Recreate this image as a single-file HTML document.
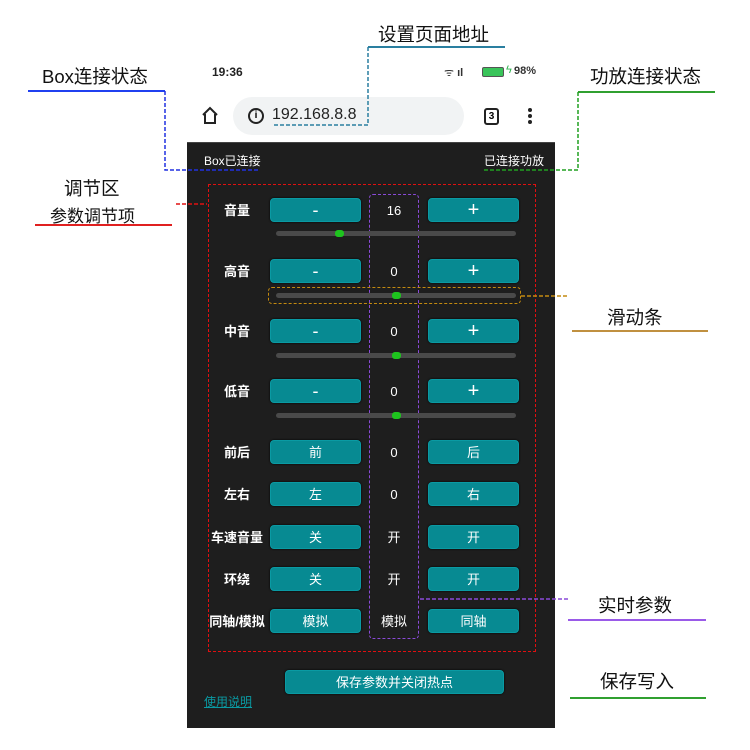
<!DOCTYPE html>
<html><head><meta charset="utf-8"><style>
*{margin:0;padding:0;box-sizing:border-box}
body{width:750px;height:750px;background:#fff;position:relative;overflow:hidden;font-family:"Liberation Sans","Noto Sans CJK SC",sans-serif}
.a{position:absolute}
.t{position:absolute;white-space:nowrap}
.btn{position:absolute;width:91px;height:24px;background:#078a92;border-radius:4px;border:1px solid #0a9aa3;color:#fff;font-size:13px;text-align:center;line-height:23px;box-shadow:0 0 2px #000}
.lbl{position:absolute;color:#fff;font-size:13px;width:80px;text-align:center;left:197px;font-weight:bold}
.val{position:absolute;color:#fff;font-size:13px;width:50px;text-align:center;left:369px}
.n{margin-top:3px}
.sl{position:absolute;left:276px;width:240px;height:5px;background:#4a4a4a;border-radius:3px}
.th{position:absolute;top:-1px;width:9px;height:7px;background:#1ec41e;border-radius:3px}
.ann{position:absolute;font-size:18.5px;color:#111;white-space:nowrap}
</style></head><body>
<div class="t" style="left:212px;top:65px;font-size:12px;font-weight:bold;color:#222">19:36</div>
<div class="t" style="left:444px;top:65px;font-size:11px;color:#333">ᯤ <b>ıl</b></div>
<div class="a" style="left:482px;top:67px;width:22px;height:10px;border:1px solid #555;border-radius:2px;background:#39c45a"></div>
<div class="t" style="left:506px;top:64px;font-size:11px;color:#2bb24c">ϟ</div>
<div class="t" style="left:514px;top:65px;font-size:11px;font-weight:bold;color:#333">98%</div>
<svg class="a" style="left:200px;top:106px" width="20" height="20"><path d="M3 9 L10 2 L17 9 M5 8 V17 H15 V8" fill="none" stroke="#222" stroke-width="2"/></svg>
<div class="a" style="left:233px;top:97px;width:231px;height:38px;background:#f1f3f4;border-radius:19px"></div>
<div class="a" style="left:248px;top:108px;width:16px;height:16px;border:2px solid #222;border-radius:50%;font-size:10px;font-weight:bold;text-align:center;line-height:12px">i</div>
<div class="t" style="left:272px;top:106px;font-size:16px;color:#222">192.168.8.8</div>
<div class="a" style="left:484px;top:108px;width:15px;height:17px;border:2px solid #222;border-radius:3px;font-size:10px;font-weight:bold;text-align:center;line-height:13px">3</div>
<div class="a" style="left:528px;top:108px;width:4px;height:4px;background:#222;border-radius:50%"></div>
<div class="a" style="left:528px;top:114px;width:4px;height:4px;background:#222;border-radius:50%"></div>
<div class="a" style="left:528px;top:120px;width:4px;height:4px;background:#222;border-radius:50%"></div>
<div class="a" style="left:187px;top:142px;width:368px;height:586px;background:#1e1e1e;border-top:1px solid #444"></div>
<div class="t" style="left:204px;top:152px;font-size:12px;color:#fff">Box已连接</div>
<div class="t" style="left:484px;top:152px;font-size:12px;color:#fff">已连接功放</div>
<div class="a" style="left:208px;top:184px;width:328px;height:468px;border:1.5px dashed #e01010"></div>
<div class="a" style="left:369px;top:194px;width:50px;height:445px;border:1.5px dashed #8a4ad8;border-radius:4px"></div>
<div class="a" style="left:268px;top:287px;width:253px;height:17px;border:1.5px dashed #c48a10;border-radius:4px"></div>

<div class="lbl" style="top:200px">音量</div><div class="btn" style="left:270px;top:198px;font-size:18px">-</div><div class="val n" style="top:200px">16</div><div class="btn" style="left:428px;top:198px;font-size:20px">+</div>
<div class="sl" style="top:231px"><div class="th" style="left:59px"></div></div>
<div class="lbl" style="top:261px">高音</div><div class="btn" style="left:270px;top:259px;font-size:18px">-</div><div class="val n" style="top:261px">0</div><div class="btn" style="left:428px;top:259px;font-size:20px">+</div>
<div class="sl" style="top:293px"><div class="th" style="left:116px"></div></div>
<div class="lbl" style="top:321px">中音</div><div class="btn" style="left:270px;top:319px;font-size:18px">-</div><div class="val n" style="top:321px">0</div><div class="btn" style="left:428px;top:319px;font-size:20px">+</div>
<div class="sl" style="top:353px"><div class="th" style="left:116px"></div></div>
<div class="lbl" style="top:381px">低音</div><div class="btn" style="left:270px;top:379px;font-size:18px">-</div><div class="val n" style="top:381px">0</div><div class="btn" style="left:428px;top:379px;font-size:20px">+</div>
<div class="sl" style="top:413px"><div class="th" style="left:116px"></div></div>
<div class="lbl" style="top:442px">前后</div><div class="btn" style="left:270px;top:440px">前</div><div class="val n" style="top:442px">0</div><div class="btn" style="left:428px;top:440px">后</div>
<div class="lbl" style="top:484px">左右</div><div class="btn" style="left:270px;top:482px">左</div><div class="val n" style="top:484px">0</div><div class="btn" style="left:428px;top:482px">右</div>
<div class="lbl" style="top:527px">车速音量</div><div class="btn" style="left:270px;top:525px">关</div><div class="val" style="top:527px">开</div><div class="btn" style="left:428px;top:525px">开</div>
<div class="lbl" style="top:569px">环绕</div><div class="btn" style="left:270px;top:567px">关</div><div class="val" style="top:569px">开</div><div class="btn" style="left:428px;top:567px">开</div>
<div class="lbl" style="top:611px">同轴/模拟</div><div class="btn" style="left:270px;top:609px">模拟</div><div class="val" style="top:611px">模拟</div><div class="btn" style="left:428px;top:609px">同轴</div>
<div class="btn" style="left:285px;top:670px;width:219px">保存参数并关闭热点</div>
<div class="t" style="left:204px;top:693px;font-size:12px;color:#0a9aa3;text-decoration:underline">使用说明</div>

<svg class="a" style="left:0;top:0" width="750" height="750">
<g fill="none" stroke-width="1.5">
<line x1="368" y1="47" x2="505" y2="47" stroke="#2a7fa0" stroke-width="2"/>
<path d="M368 47 V125 H272" stroke="#2a7fa0" stroke-dasharray="4,2"/>
<line x1="28" y1="91" x2="165" y2="91" stroke="#2040f0" stroke-width="2"/>
<path d="M165 91 V170 H260" stroke="#2030e0" stroke-dasharray="4,2"/>
<line x1="578" y1="92" x2="715" y2="92" stroke="#30a030" stroke-width="2"/>
<path d="M578 92 V170 H484" stroke="#20a020" stroke-dasharray="4,2"/>
<line x1="35" y1="225" x2="172" y2="225" stroke="#e02020" stroke-width="2"/>
<line x1="176" y1="204" x2="207" y2="204" stroke="#e01010" stroke-dasharray="4,2"/>
<line x1="521" y1="296" x2="568" y2="296" stroke="#c48a10" stroke-dasharray="4,2"/>
<line x1="572" y1="331" x2="708" y2="331" stroke="#c09040" stroke-width="2"/>
<line x1="420" y1="599" x2="568" y2="599" stroke="#8a4ad8" stroke-dasharray="4,2"/>
<line x1="568" y1="620" x2="706" y2="620" stroke="#9a5ae8" stroke-width="2"/>
<line x1="570" y1="698" x2="706" y2="698" stroke="#30a030" stroke-width="2"/>
</g></svg>
<div class="ann" style="left:378px;top:21px">设置页面地址</div>
<div class="ann" style="left:42px;top:63px">Box连接状态</div>
<div class="ann" style="left:590px;top:63px">功放连接状态</div>
<div class="ann" style="left:64px;top:175px">调节区</div>
<div class="ann" style="left:50px;top:202px;font-size:17px">参数调节项</div>
<div class="ann" style="left:607px;top:304px">滑动条</div>
<div class="ann" style="left:598px;top:592px">实时参数</div>
<div class="ann" style="left:600px;top:668px">保存写入</div>
</body></html>
